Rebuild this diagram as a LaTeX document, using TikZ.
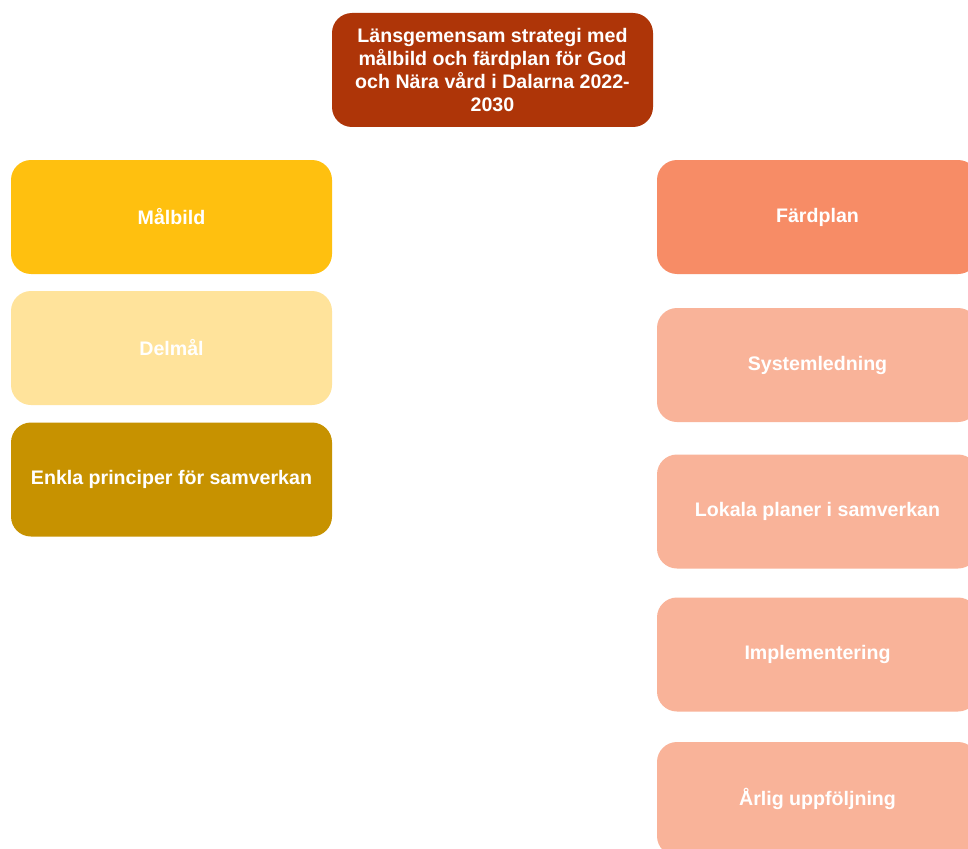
\documentclass[tikz,border=0pt]{standalone}
\usepackage{fontspec}
\setmainfont{Liberation Sans}
\definecolor{cTop}{HTML}{AE3508}
\definecolor{cMal}{HTML}{FFC00F}
\definecolor{cDel}{HTML}{FFE39B}
\definecolor{cEnk}{HTML}{C79200}
\definecolor{cFar}{HTML}{F78C66}
\definecolor{cSal}{HTML}{F9B399}
\tikzset{
  box/.style={rounded corners=15pt, minimum width=321*0.75pt, minimum height=114*0.75pt,
    inner sep=0pt, text=white, font=\fontsize{14.7pt}{17.25pt}\selectfont\bfseries, align=center, draw=none},
}
\begin{document}
\begin{tikzpicture}[x=0.75pt,y=-0.75pt]
\useasboundingbox (0,0) rectangle (968,849);
\clip (0,0) rectangle (968,849);
\fill[white] (0,0) rectangle (968,849);
\node[box, fill=cTop] (top) at (492.5,70) {Länsgemensam strategi med\\målbild och färdplan för God\\och Nära vård i Dalarna 2022-\\2030};
\node[box, fill=cMal] (malbild) at (171.5,217) {Målbild};
\node[box, fill=cDel] (delmal) at (171.5,348) {Delmål};
\node[box, fill=cEnk] (enkla) at (171.5,479.5) {Enkla principer för samverkan};
\node[box, fill=cFar] (fardplan) at (817.5,217) {Färdplan};
\node[box, fill=cSal] (system) at (817.5,365) {Systemledning};
\node[box, fill=cSal] (lokala) at (817.5,511.5) {Lokala planer i samverkan};
\node[box, fill=cSal] (impl) at (817.5,654.5) {Implementering};
\node[box, fill=cSal] (arlig) at (817.5,799) {Årlig uppföljning};
\end{tikzpicture}
\end{document}
